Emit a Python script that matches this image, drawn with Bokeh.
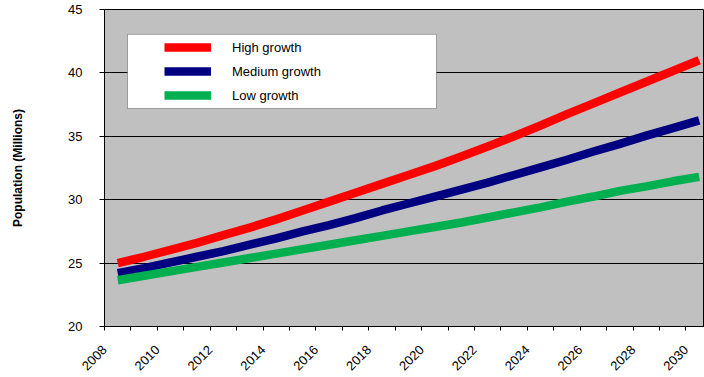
import math
from bokeh.plotting import figure
from bokeh.models import FixedTicker, Legend, LegendItem, BoxAnnotation, Range1d
from bokeh.embed import file_html
from bokeh.resources import INLINE

years = list(range(2008, 2031))
high_growth = [25.0, 25.5, 26.05, 26.6, 27.2, 27.8, 28.45, 29.15, 29.85, 30.55, 31.25, 31.95,
               32.65, 33.4, 34.2, 35.0, 35.85, 36.75, 37.6, 38.45, 39.3, 40.15, 41.0]
medium_growth = [24.2, 24.6, 25.05, 25.5, 25.95, 26.45, 26.95, 27.5, 28.0, 28.55, 29.15, 29.7,
                 30.25, 30.8, 31.35, 31.95, 32.55, 33.15, 33.8, 34.4, 35.05, 35.65, 36.25]
low_growth = [23.65, 24.0, 24.35, 24.7, 25.05, 25.4, 25.75, 26.1, 26.45, 26.8, 27.15, 27.5,
              27.85, 28.2, 28.6, 29.0, 29.4, 29.85, 30.25, 30.7, 31.05, 31.45, 31.8]
series_names = ["High growth", "Medium growth", "Low growth"]
series_colors = ["#FF0000", "#000080", "#00B050"]
y_ticks = [20, 25, 30, 35, 40, 45]
x_tick_labels = ["2008", "2010", "2012", "2014", "2016", "2018",
                 "2020", "2022", "2024", "2026", "2028", "2030"]

FONT = "Liberation Sans"

p = figure(width=704, height=377, output_backend="svg", toolbar_location=None,
           x_range=Range1d(2007.5, 2030.2), y_range=Range1d(20, 45),
           min_border_left=104, min_border_right=0, min_border_top=9, min_border_bottom=49)

p.background_fill_color = "#C0C0C0"
p.border_fill_color = "white"
p.outline_line_color = "black"
p.outline_line_width = 1

# grid
p.xgrid.visible = False
p.ygrid.grid_line_color = "black"
p.ygrid.grid_line_width = 1
p.ygrid.ticker = FixedTicker(ticks=y_ticks)

# y axis
p.yaxis.ticker = FixedTicker(ticks=y_ticks)
p.yaxis.axis_line_color = "black"
p.yaxis.major_tick_line_color = "black"
p.yaxis.major_tick_out = 5
p.yaxis.major_tick_in = 0
p.yaxis.minor_tick_line_color = None
p.yaxis.major_label_text_font = FONT
p.yaxis.major_label_text_font_size = "13px"
p.yaxis.major_label_text_color = "black"
p.yaxis.major_label_standoff = 17
p.yaxis.axis_label = "Population (Millions)"
p.yaxis.axis_label_text_font = FONT
p.yaxis.axis_label_text_font_size = "12px"
p.yaxis.axis_label_text_font_style = "bold"
p.yaxis.axis_label_text_color = "black"
p.yaxis.axis_label_standoff = 40

# x axis: ticks on category boundaries, label every second year
boundaries = [y - 0.5 for y in years]
p.xaxis.ticker = FixedTicker(ticks=boundaries)
p.xaxis.major_label_overrides = {
    b: (str(y) if str(y) in x_tick_labels else "") for b, y in zip(boundaries, years)
}
p.xaxis.major_label_orientation = math.pi / 4
p.xaxis.axis_line_color = "black"
p.xaxis.major_tick_line_color = "black"
p.xaxis.major_tick_out = 4
p.xaxis.major_tick_in = 0
p.xaxis.minor_tick_line_color = None
p.xaxis.major_label_text_font = FONT
p.xaxis.major_label_text_font_size = "13px"
p.xaxis.major_label_text_color = "black"
p.xaxis.major_label_standoff = 17

renderers = []
for name, vals, color in zip(series_names, [high_growth, medium_growth, low_growth], series_colors):
    r = p.line(years, vals, line_color=color, line_width=8.5, line_join="round")
    renderers.append(r)

# legend frame
box = BoxAnnotation(left=2008.37, right=2020.06, bottom=37.19, top=43.04,
                    fill_color="white", fill_alpha=1.0, line_color="black", line_width=1,
                    level="overlay")
p.add_layout(box)

legend = Legend(items=[LegendItem(label=n, renderers=[r]) for n, r in zip(series_names, renderers)],
                location=(60, 221), orientation="vertical",
                background_fill_alpha=0, border_line_alpha=0,
                padding=0, margin=0, spacing=4,
                glyph_width=47, glyph_height=20, label_height=20,
                label_standoff=21, label_text_font=FONT, label_text_font_size="13px",
                label_text_color="black")
p.add_layout(legend)

open("out.html", "w").write(file_html(p, INLINE))
